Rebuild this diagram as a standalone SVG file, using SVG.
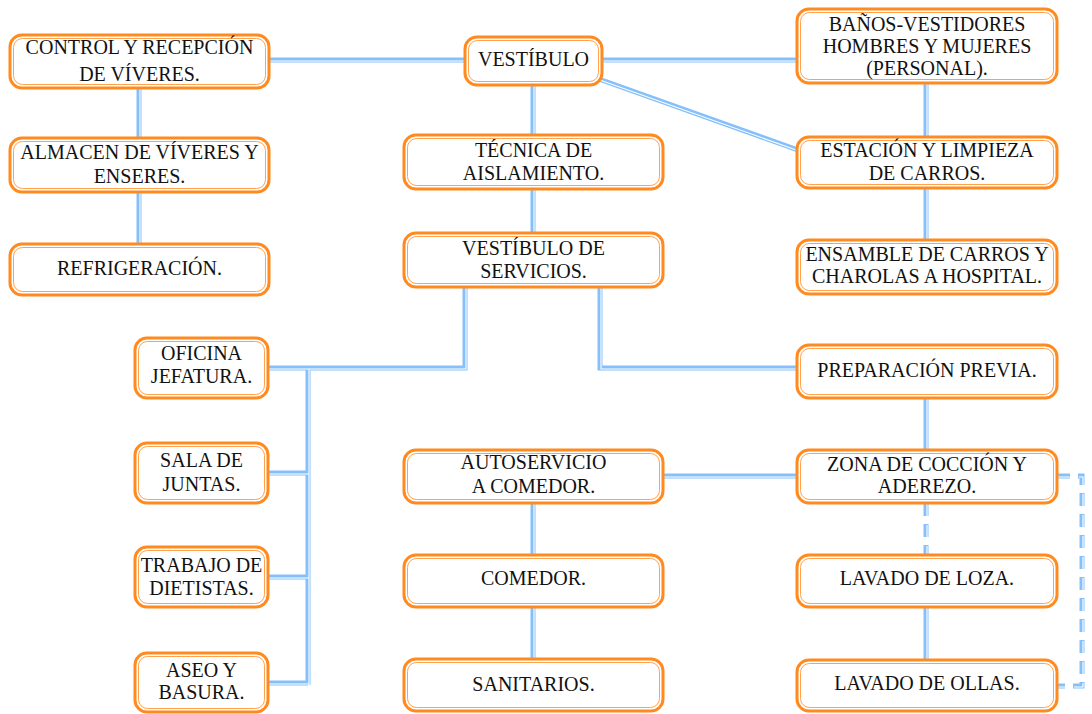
<svg xmlns="http://www.w3.org/2000/svg" width="1092" height="714" viewBox="0 0 1092 714">
<style>
.box{fill:#fff;stroke:#FF8A1F;stroke-width:3}
.inner{fill:none;stroke:#FFA24D;stroke-width:1}
.t{font-family:'Liberation Serif','Times New Roman',Times,'DejaVu Serif',serif;font-size:20px;fill:#111;text-anchor:middle}
.c{fill:none;stroke:#86C0FA;stroke-width:5}
.cw{fill:none;stroke:#fff;stroke-width:1.1}
.d{stroke-dasharray:13 8}
</style>
<rect width="1092" height="714" fill="#fff"/>
<g id="connectors">
  <g id="solid">
    <path class="c" d="M269,60H465 M602,60H797 M596,78L798,150 M533,85V135 M533,189V233 M139,88V138 M139,192V244 M926,83V137 M926,188V240 M465,287V368H268 M600,287V368H797 M926,398V450 M797,476H663 M533,503V555 M533,607V659 M926,607V660 M308,368V685 M268,473H308 M268,577H308 M268,683H308"/>
    <path class="cw" transform="translate(1,1)" d="M269,60H465 M602,60H797 M596,78L798,150 M533,85V135 M533,189V233 M139,88V138 M139,192V244 M926,83V137 M926,188V240 M465,287V368H268 M600,287V368H797 M926,398V450 M797,476H663 M533,503V555 M533,607V659 M926,607V660 M308,368V685 M268,473H308 M268,577H308 M268,683H308"/>
  </g>
  <g id="dashed">
    <path class="c d" d="M926,503V555 M1057,476H1082V686H1057"/>
    <path class="cw d" transform="translate(1,1)" d="M926,503V555 M1057,476H1082V686H1057"/>
  </g>
</g>
<g id="control">
  <rect class="box" x="10" y="35" width="259" height="53" rx="12"/>
  <rect class="inner" x="13.5" y="38.5" width="252" height="46" rx="9"/>
  <text class="t" x="139.5" y="54">CONTROL Y RECEPCIÓN</text>
  <text class="t" x="139.5" y="81">DE VÍVERES.</text>
</g>
<g id="almacen">
  <rect class="box" x="10" y="138" width="259" height="54" rx="12"/>
  <rect class="inner" x="13.5" y="141.5" width="252" height="47" rx="9"/>
  <text class="t" x="139.5" y="159">ALMACEN DE VÍVERES Y</text>
  <text class="t" x="139.5" y="183">ENSERES.</text>
</g>
<g id="refrigeracion">
  <rect class="box" x="10" y="244" width="259" height="51" rx="12"/>
  <rect class="inner" x="13.5" y="247.5" width="252" height="44" rx="9"/>
  <text class="t" x="139.5" y="275">REFRIGERACIÓN.</text>
</g>
<g id="vestibulo">
  <rect class="box" x="465" y="37" width="137" height="48" rx="12"/>
  <rect class="inner" x="468.5" y="40.5" width="130" height="41" rx="9"/>
  <text class="t" x="533.5" y="66">VESTÍBULO</text>
</g>
<g id="tecnica">
  <rect class="box" x="404" y="135" width="259" height="54" rx="12"/>
  <rect class="inner" x="407.5" y="138.5" width="252" height="47" rx="9"/>
  <text class="t" x="533.5" y="157">TÉCNICA DE</text>
  <text class="t" x="533.5" y="180">AISLAMIENTO.</text>
</g>
<g id="vestibulo-servicios">
  <rect class="box" x="404" y="233" width="259" height="54" rx="12"/>
  <rect class="inner" x="407.5" y="236.5" width="252" height="47" rx="9"/>
  <text class="t" x="533.5" y="255">VESTÍBULO DE</text>
  <text class="t" x="533.5" y="278">SERVICIOS.</text>
</g>
<g id="banos">
  <rect class="box" x="797" y="9" width="260" height="74" rx="12"/>
  <rect class="inner" x="800.5" y="12.5" width="253" height="67" rx="9"/>
  <text class="t" x="927" y="31">BAÑOS-VESTIDORES</text>
  <text class="t" x="927" y="53">HOMBRES Y MUJERES</text>
  <text class="t" x="927" y="75">(PERSONAL).</text>
</g>
<g id="estacion">
  <rect class="box" x="797" y="137" width="260" height="51" rx="12"/>
  <rect class="inner" x="800.5" y="140.5" width="253" height="44" rx="9"/>
  <text class="t" x="927" y="157">ESTACIÓN Y LIMPIEZA</text>
  <text class="t" x="927" y="180">DE CARROS.</text>
</g>
<g id="ensamble">
  <rect class="box" x="797" y="240" width="260" height="54" rx="12"/>
  <rect class="inner" x="800.5" y="243.5" width="253" height="47" rx="9"/>
  <text class="t" x="927" y="261">ENSAMBLE DE CARROS Y</text>
  <text class="t" x="927" y="283">CHAROLAS A HOSPITAL.</text>
</g>
<g id="preparacion">
  <rect class="box" x="797" y="345" width="260" height="53" rx="12"/>
  <rect class="inner" x="800.5" y="348.5" width="253" height="46" rx="9"/>
  <text class="t" x="927" y="377">PREPARACIÓN PREVIA.</text>
</g>
<g id="oficina">
  <rect class="box" x="135" y="338" width="133" height="60" rx="12"/>
  <rect class="inner" x="138.5" y="341.5" width="126" height="53" rx="9"/>
  <text class="t" x="201.5" y="360">OFICINA</text>
  <text class="t" x="201.5" y="383">JEFATURA.</text>
</g>
<g id="sala">
  <rect class="box" x="135" y="443" width="133" height="60" rx="12"/>
  <rect class="inner" x="138.5" y="446.5" width="126" height="53" rx="9"/>
  <text class="t" x="201.5" y="467">SALA DE</text>
  <text class="t" x="201.5" y="491">JUNTAS.</text>
</g>
<g id="trabajo">
  <rect class="box" x="135" y="547" width="133" height="60" rx="12"/>
  <rect class="inner" x="138.5" y="550.5" width="126" height="53" rx="9"/>
  <text class="t" x="201.5" y="572">TRABAJO DE</text>
  <text class="t" x="201.5" y="595">DIETISTAS.</text>
</g>
<g id="aseo">
  <rect class="box" x="135" y="653" width="133" height="59" rx="12"/>
  <rect class="inner" x="138.5" y="656.5" width="126" height="52" rx="9"/>
  <text class="t" x="201.5" y="677">ASEO Y</text>
  <text class="t" x="201.5" y="699">BASURA.</text>
</g>
<g id="autoservicio">
  <rect class="box" x="404" y="450" width="259" height="53" rx="12"/>
  <rect class="inner" x="407.5" y="453.5" width="252" height="46" rx="9"/>
  <text class="t" x="533.5" y="469">AUTOSERVICIO</text>
  <text class="t" x="533.5" y="493">A COMEDOR.</text>
</g>
<g id="comedor">
  <rect class="box" x="404" y="555" width="259" height="52" rx="12"/>
  <rect class="inner" x="407.5" y="558.5" width="252" height="45" rx="9"/>
  <text class="t" x="533.5" y="585">COMEDOR.</text>
</g>
<g id="sanitarios">
  <rect class="box" x="404" y="659" width="259" height="52" rx="12"/>
  <rect class="inner" x="407.5" y="662.5" width="252" height="45" rx="9"/>
  <text class="t" x="533.5" y="691">SANITARIOS.</text>
</g>
<g id="zona">
  <rect class="box" x="797" y="450" width="260" height="53" rx="12"/>
  <rect class="inner" x="800.5" y="453.5" width="253" height="46" rx="9"/>
  <text class="t" x="927" y="471">ZONA DE COCCIÓN Y</text>
  <text class="t" x="927" y="493">ADEREZO.</text>
</g>
<g id="lavado-loza">
  <rect class="box" x="797" y="555" width="260" height="52" rx="12"/>
  <rect class="inner" x="800.5" y="558.5" width="253" height="45" rx="9"/>
  <text class="t" x="927" y="585">LAVADO DE LOZA.</text>
</g>
<g id="lavado-ollas">
  <rect class="box" x="797" y="660" width="260" height="51" rx="12"/>
  <rect class="inner" x="800.5" y="663.5" width="253" height="44" rx="9"/>
  <text class="t" x="927" y="690">LAVADO DE OLLAS.</text>
</g>
</svg>
